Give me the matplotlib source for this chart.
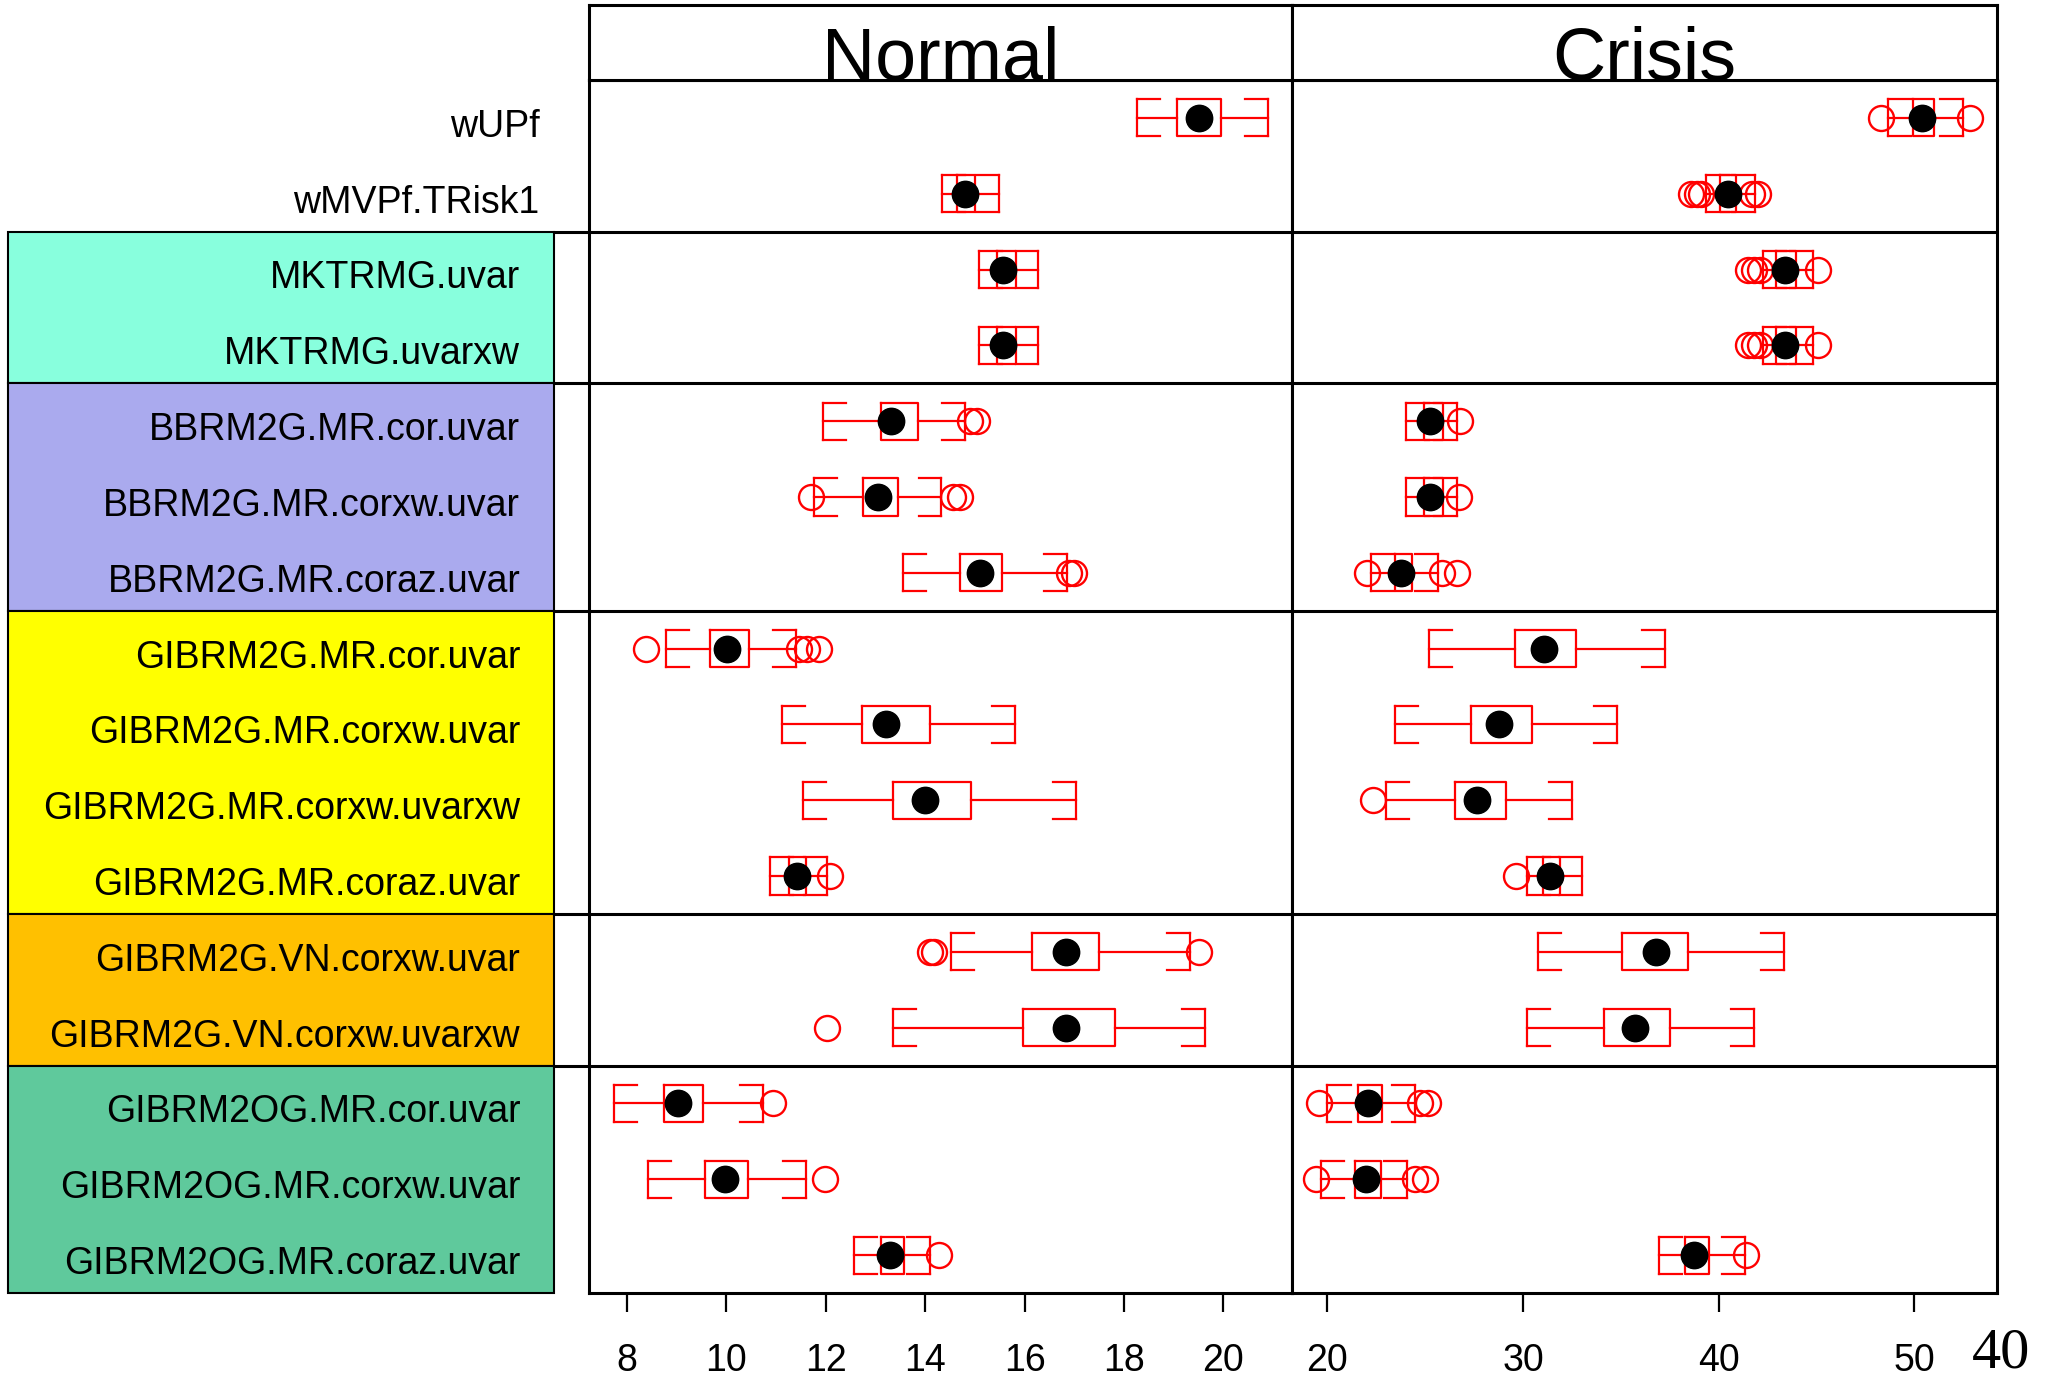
import matplotlib
matplotlib.use("Agg")
import matplotlib.pyplot as plt
import matplotlib.patches as patches
import matplotlib.transforms as transforms
from matplotlib.lines import Line2D

plt.rcParams["font.family"] = ["Liberation Sans", "DejaVu Sans"]

# row labels, top to bottom
labels = [
    "wUPf", "wMVPf.TRisk1",
    "MKTRMG.uvar", "MKTRMG.uvarxw",
    "BBRM2G.MR.cor.uvar", "BBRM2G.MR.corxw.uvar", "BBRM2G.MR.coraz.uvar",
    "GIBRM2G.MR.cor.uvar", "GIBRM2G.MR.corxw.uvar", "GIBRM2G.MR.corxw.uvarxw",
    "GIBRM2G.MR.coraz.uvar",
    "GIBRM2G.VN.corxw.uvar", "GIBRM2G.VN.corxw.uvarxw",
    "GIBRM2OG.MR.cor.uvar", "GIBRM2OG.MR.corxw.uvar", "GIBRM2OG.MR.coraz.uvar",
]

# colored label groups: (first row, last row, colour)
groups = [
    (3, 4, "#88FFDD"),
    (5, 7, "#AAAAEE"),
    (8, 11, "#FFFF00"),
    (12, 13, "#FFC000"),
    (14, 16, "#5FC99C"),
]
separators = [2.5, 4.5, 7.5, 11.5, 13.5]

# Normal period: whisker low, q1, median, q3, whisker high, outliers
normal_lo = [18.26, 14.35, 15.09, 15.09, 11.95, 11.76, 13.55, 8.79, 11.12, 11.54, 10.89, 14.52, 13.35, 7.75, 8.42, 12.57]
normal_q1 = [19.07, 14.65, 15.45, 15.45, 13.11, 12.75, 14.71, 9.67, 12.74, 13.35, 11.26, 16.15, 15.97, 8.74, 9.57, 13.12]
normal_med = [19.50, 14.80, 15.57, 15.57, 13.31, 13.06, 15.11, 10.01, 13.21, 14.00, 11.42, 16.83, 16.83, 9.03, 9.98, 13.30]
normal_q3 = [19.95, 15.00, 15.83, 15.83, 13.85, 13.46, 15.55, 10.45, 14.09, 14.92, 11.61, 17.49, 17.81, 9.53, 10.44, 13.57]
normal_hi = [20.90, 15.48, 16.28, 16.28, 14.80, 14.33, 16.85, 11.40, 15.81, 17.03, 12.03, 19.32, 19.63, 10.73, 11.61, 14.09]
normal_out = [
    [], [], [], [],
    [14.90, 15.04], [11.70, 14.56, 14.71], [16.90, 17.00],
    [8.38, 11.47, 11.63, 11.86], [], [], [12.09],
    [14.09, 14.17, 19.50], [12.02],
    [10.94], [11.98], [14.28],
]

# Crisis period
crisis_lo = [48.65, 39.36, 42.24, 42.24, 24.01, 24.01, 22.23, 25.20, 23.44, 22.97, 30.20, 30.77, 30.20, 20.00, 19.68, 36.96]
crisis_q1 = [49.94, 40.05, 42.95, 42.95, 24.95, 24.95, 23.44, 29.61, 27.33, 26.53, 31.04, 35.08, 34.11, 21.54, 21.41, 38.30]
crisis_med = [50.38, 40.47, 43.38, 43.38, 25.25, 25.25, 23.76, 31.07, 28.77, 27.62, 31.36, 36.81, 35.70, 22.08, 21.96, 38.74]
crisis_q3 = [51.00, 40.90, 43.96, 43.96, 25.90, 25.90, 24.34, 32.72, 30.45, 29.14, 31.89, 38.44, 37.51, 22.78, 22.72, 39.49]
crisis_hi = [52.48, 41.84, 44.82, 44.82, 26.64, 26.64, 25.64, 37.26, 34.78, 32.50, 33.00, 43.32, 41.79, 24.46, 24.08, 41.34]
crisis_out = [
    [48.27, 52.85], [38.57, 38.87, 39.11, 41.70, 42.00],
    [41.52, 41.80, 42.10, 45.05], [41.52, 41.80, 42.10, 45.05],
    [26.79], [26.75], [22.03, 25.87, 26.61],
    [], [], [22.33], [29.65],
    [], [],
    [19.55, 24.75, 25.12], [19.43, 24.46, 25.00], [41.39],
]

normal_ticks = [8, 10, 12, 14, 16, 18, 20]
crisis_ticks = [20, 30, 40, 50]

W, H = 2049, 1381
RED = "#FF0000"


def fig_rect(x0, y0, x1, y1):
    # pixel box (top-left origin) -> figure fraction
    return [x0 / W, 1 - y1 / H, (x1 - x0) / W, (y1 - y0) / H]


def draw_panel(ax, lo, q1, med, q3, hi, out, stub):
    pos = list(range(1, len(lo) + 1))
    stats = [
        dict(whislo=a, q1=b, med=c, q3=d, whishi=e, fliers=f)
        for a, b, c, d, e, f in zip(lo, q1, med, q3, hi, out)
    ]
    ax.bxp(
        stats, positions=pos, orientation="horizontal", widths=0.49,
        capwidths=0.49, manage_ticks=False,
        boxprops=dict(color=RED, linewidth=1.6),
        whiskerprops=dict(color=RED, linewidth=1.6, linestyle="-"),
        capprops=dict(color=RED, linewidth=1.6),
        medianprops=dict(linewidth=0),
        flierprops=dict(marker="o", markerfacecolor="none", markeredgecolor=RED,
                        markersize=18, markeredgewidth=1.7, linestyle="none"),
    )
    # bracket stubs on the caps
    h = 0.49 / 2
    for p, a, e in zip(pos, lo, hi):
        for yy in (p - h, p + h):
            ax.plot([a, a + stub], [yy, yy], color=RED, lw=1.6)
            ax.plot([e - stub, e], [yy, yy], color=RED, lw=1.6)
    ax.plot(med, pos, "o", color="black", markersize=19, zorder=6)
    for b in separators:
        ax.axhline(b, color="black", lw=2.2)
    for s in ax.spines.values():
        s.set_linewidth(2.2)
    ax.tick_params(axis="x", direction="out", length=14, width=1.6, pad=22,
                   labelsize=27, top=False)
    ax.tick_params(axis="y", left=False, labelleft=False)


fig = plt.figure(figsize=(W / 100, H / 100), dpi=100)
ax_lab = fig.add_axes(fig_rect(8, 80, 554, 1293))
ax_n = fig.add_axes(fig_rect(589, 80, 1292, 1293), sharey=ax_lab)
ax_c = fig.add_axes(fig_rect(1292, 80, 1997, 1293), sharey=ax_lab)
strip_n = fig.add_axes(fig_rect(589, 5, 1292, 80))
strip_c = fig.add_axes(fig_rect(1292, 5, 1997, 80))

draw_panel(ax_n, normal_lo, normal_q1, normal_med, normal_q3, normal_hi, normal_out, 0.46)
draw_panel(ax_c, crisis_lo, crisis_q1, crisis_med, crisis_q3, crisis_hi, crisis_out, 1.18)

ax_n.set_xlim(7.24, 21.38)
ax_c.set_xlim(18.19, 54.22)
ax_n.set_xticks(normal_ticks)
ax_c.set_xticks(crisis_ticks)
ax_lab.set_ylim(16.5, 0.5)
ax_lab.set_xlim(0, 1)
ax_lab.axis("off")

# label boxes and names
for r0, r1, col in groups:
    ax_lab.add_patch(patches.Rectangle((0, r0 - 0.5), 1, r1 - r0 + 1, facecolor=col,
                                       edgecolor="black", lw=1.5, clip_on=False))
for i, lab in enumerate(labels):
    x = 0.974 if i < 2 else 0.938
    ax_lab.text(x, i + 1 + 0.25, lab, ha="right", va="baseline", fontsize=27)

# separators continue through the gap between labels and panel
tr = transforms.blended_transform_factory(fig.transFigure, ax_n.transData)
for b in separators:
    fig.add_artist(Line2D([554 / W, 589 / W], [b, b], transform=tr, color="black", lw=2.2))

for ax, name in [(strip_n, "Normal"), (strip_c, "Crisis")]:
    ax.set_xticks([])
    ax.set_yticks([])
    for s in ax.spines.values():
        s.set_linewidth(2.2)
    ax.text(0.5, 0.0, name, ha="center", va="baseline", fontsize=53, transform=ax.transAxes)

fig.text(1972 / W, 2 / H, "40", family=["Liberation Serif", "DejaVu Serif"],
         fontsize=42, ha="left", va="bottom")

fig.savefig("out.png", dpi=100)
